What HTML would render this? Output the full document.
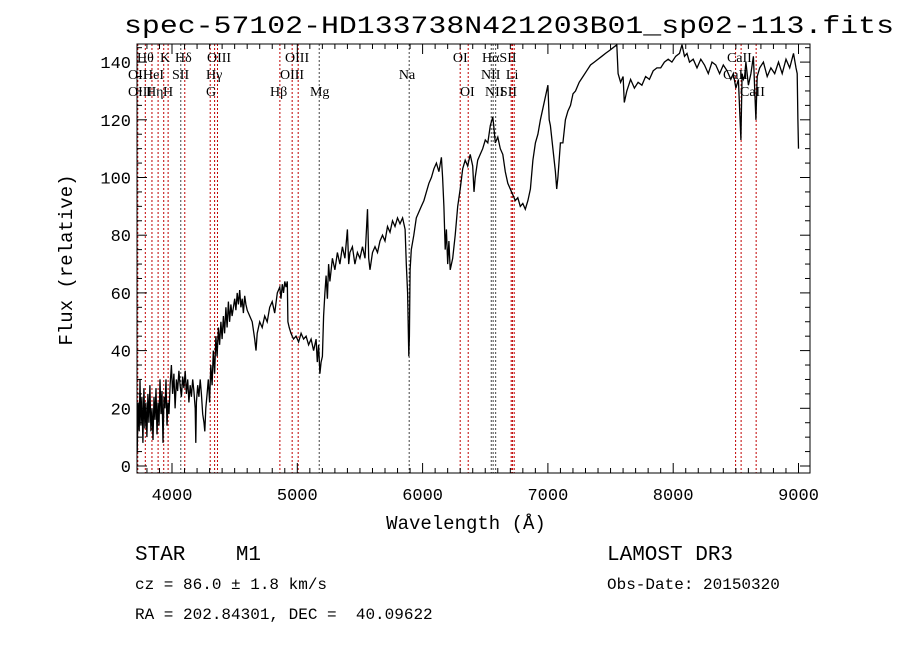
<!DOCTYPE html>
<html><head><meta charset="utf-8"><style>
body{margin:0;background:#fff}
svg{display:block}
text{font-family:"Liberation Mono",monospace;fill:#000}
.ser{font-family:"Liberation Serif",serif;font-size:14px}
</style></head><body>
<svg id="chart" width="900" height="649" viewBox="0 0 900 649" xmlns="http://www.w3.org/2000/svg">
<defs><clipPath id="pc"><rect x="137" y="44" width="673" height="429"/></clipPath></defs>
<rect width="900" height="649" fill="#fff"/>
<text x="124" y="33" font-size="25" textLength="770" lengthAdjust="spacingAndGlyphs">spec-57102-HD133738N421203B01_sp02-113.fits</text>
<g id="lines" clip-path="url(#pc)"></g>
<g id="labels"></g>
<path id="spec" fill="none" stroke="#000" stroke-width="1.3" clip-path="url(#pc)"/>
<rect x="137" y="44" width="673" height="429" fill="none" stroke="#000" stroke-width="1"/>
<g id="axes"></g>
<text x="466" y="529" font-size="19" text-anchor="middle">Wavelength (Å)</text>
<text transform="translate(72,260) rotate(-90)" font-size="19" text-anchor="middle">Flux (relative)</text>
<text x="135" y="560" font-size="21" xml:space="preserve">STAR    M1</text>
<text x="135" y="589" font-size="16">cz = 86.0 ± 1.8 km/s</text>
<text x="135" y="619" font-size="16" xml:space="preserve">RA = 202.84301, DEC =  40.09622</text>
<text x="607" y="560" font-size="21">LAMOST DR3</text>
<text x="607" y="589" font-size="16">Obs-Date: 20150320</text>
</svg>
<script>
const wl=[3690,3697,3703,3710,3716,3722,3730,3738,3745,3752,3760,3768,3776,3784,3792,3800,3808,3816,3824,3832,3840,3848,3856,3864,3872,3880,3888,3896,3904,3912,3920,3928,3936,3944,3952,3960,3968,3976,3985,3995,4005,4015,4025,4035,4045,4055,4065,4075,4085,4095,4105,4115,4125,4135,4145,4155,4165,4175,4185,4190,4195,4205,4215,4225,4235,4245,4255,4262,4270,4280,4290,4300,4310,4320,4330,4340,4350,4360,4370,4380,4390,4400,4410,4420,4430,4440,4450,4460,4470,4480,4500,4510,4520,4530,4540,4550,4560,4570,4580,4590,4600,4620,4640,4660,4670,4680,4700,4720,4740,4760,4780,4800,4820,4840,4860,4870,4880,4890,4900,4910,4920,4925,4935,4950,4970,4990,5010,5030,5050,5070,5090,5110,5130,5150,5160,5170,5180,5190,5200,5210,5220,5230,5240,5250,5260,5280,5300,5320,5340,5360,5380,5400,5410,5420,5440,5460,5480,5500,5520,5540,5560,5570,5580,5600,5620,5640,5660,5680,5700,5720,5740,5760,5780,5800,5820,5840,5860,5870,5880,5890,5895,5900,5910,5930,5950,5970,5990,6010,6030,6050,6070,6090,6110,6130,6150,6160,6170,6180,6190,6200,6210,6220,6240,6260,6280,6300,6320,6340,6360,6380,6400,6410,6420,6440,6460,6480,6500,6520,6540,6560,6570,6580,6600,6620,6640,6660,6680,6700,6720,6740,6760,6780,6800,6820,6840,6860,6880,6900,6920,6940,6960,6980,7000,7010,7020,7040,7060,7070,7080,7100,7120,7140,7160,7180,7200,7220,7250,7280,7310,7340,7370,7400,7430,7460,7490,7520,7550,7560,7580,7600,7610,7630,7660,7690,7720,7750,7780,7810,7840,7870,7900,7930,7960,7990,8020,8050,8070,8090,8110,8130,8160,8190,8220,8250,8280,8310,8340,8370,8400,8430,8460,8480,8500,8520,8540,8550,8560,8570,8580,8600,8620,8640,8660,8670,8690,8720,8750,8780,8810,8840,8870,8900,8930,8960,8980,8990,8995,9000];
const flux=[25,8,35,10,28,5,22,12,30,14,24,8,27,13,22,10,25,15,28,12,20,9,24,16,27,11,22,14,30,18,26,8,24,20,30,14,22,18,28,35,25,32,20,30,26,33,28,24,31,27,33,25,30,22,28,24,30,26,20,8,22,28,24,30,25,18,15,12,20,25,30,22,35,28,40,32,45,38,48,42,50,44,52,46,55,48,57,50,56,52,58,54,60,56,61,55,58,53,59,56,54,52,50,44,40,46,50,48,52,50,55,57,53,60,62,58,63,60,64,62,64,50,48,46,44,45,43,46,44,45,42,44,40,44,36,42,32,36,38,52,60,66,58,70,64,72,68,74,70,76,72,82,70,74,76,70,74,72,76,72,89,72,68,74,76,74,78,80,78,83,81,85,83,86,84,86,82,70,60,38,45,68,75,80,86,88,90,92,95,98,100,103,105,102,107,100,90,75,82,70,78,68,72,80,90,96,103,106,104,108,104,95,100,106,108,110,113,112,118,121,117,112,114,110,108,102,98,96,94,92,93,90,91,89,92,96,106,112,115,120,124,128,132,120,118,110,102,96,100,112,112,120,123,125,129,130,133,135,137,139,140,141,142,143,144,145,146,136,133,135,126,130,134,131,133,132,135,134,137,138,138,140,141,140,142,143,146,142,143,140,141,138,141,139,136,140,139,136,139,137,134,136,131,134,113,136,134,135,140,132,136,142,120,135,138,140,135,138,136,140,136,141,138,143,138,136,120,110];
const lineWl=[3727,3787,3840,3889,3934,3969,4070,4102,4305,4340,4363,4861,4959,5007,5175,5893,6300,6364,6548,6563,6583,6707,6717,6731,8498,8542,8662];
const lineColor=["r","r","r","r","r","r","k","r","r","r","r","r","r","r","k","k","r","r","k","k","k","r","r","r","r","r","r"];
const labelText=["Hθ","K","Hδ","OIII","OIII","OI","HαSII","CaII","OII","HeI","SII","Hγ","OIII","Na","NII","Li","CaII","OIII","Hη","H","G","Hβ","Mg","OI","NII","SII","CaII"];
const labelWl=[3721,3904,4024,4279,4902,6242,6474,8429,3649,3769,4000,4271,4862,5811,6466,6665,8397,3649,3793,3928,4271,4782,5101,6298,6498,6617,8533];
const labelRow=[0,0,0,0,0,0,0,0,1,1,1,1,1,1,1,1,1,2,2,2,2,2,2,2,2,2,2];
const xTicks=[4000,5000,6000,7000,8000,9000];
const yTicks=[0,20,40,60,80,100,120,140];
const X=l=>172+(l-4000)*0.1253;
const Y=f=>466-f*2.885;
const NS="http://www.w3.org/2000/svg";
function mk(tag,attrs,parent){const e=document.createElementNS(NS,tag);for(const k in attrs)e.setAttribute(k,attrs[k]);parent.appendChild(e);return e;}
let d="";wl.forEach((l,i)=>{d+=(i?"L":"M")+X(l).toFixed(1)+","+Y(flux[i]).toFixed(1);});
document.getElementById("spec").setAttribute("d",d);
const lg=document.getElementById("lines");
lineWl.forEach((l,i)=>{const e=mk("line",{x1:X(l),x2:X(l),y1:44,y2:473,stroke:lineColor[i]=="r"?"#c00000":"#444","stroke-width":1,"stroke-dasharray":"2,2"},lg);

});
const lb=document.getElementById("labels");
labelText.forEach((t,i)=>{const e=mk("text",{x:X(labelWl[i]),y:62+labelRow[i]*17,class:"ser"},lb);e.textContent=t;

});
const ax=document.getElementById("axes");
for(let l=3700;l<=9100;l+=100){const x=X(l);if(x<137||x>810)continue;const maj=l%1000==0;const len=maj?10:5;
mk("line",{x1:x,x2:x,y1:473,y2:473-len,stroke:"#000"},ax);mk("line",{x1:x,x2:x,y1:44,y2:44+len,stroke:"#000"},ax);}
xTicks.forEach(l=>{const e=mk("text",{x:X(l),y:500,"font-size":"17","text-anchor":"middle"},ax);e.textContent=l;

});
for(let f=0;f<=145;f+=5){const y=Y(f);const maj=f%20==0;const len=maj?10:5;
mk("line",{x1:137,x2:137+len,y1:y,y2:y,stroke:"#000"},ax);mk("line",{x1:810,x2:810-len,y1:y,y2:y,stroke:"#000"},ax);}
yTicks.forEach(f=>{const e=mk("text",{x:131,y:Y(f)+6,"font-size":"17","text-anchor":"end"},ax);e.textContent=f;

});
</script>
</body></html>
